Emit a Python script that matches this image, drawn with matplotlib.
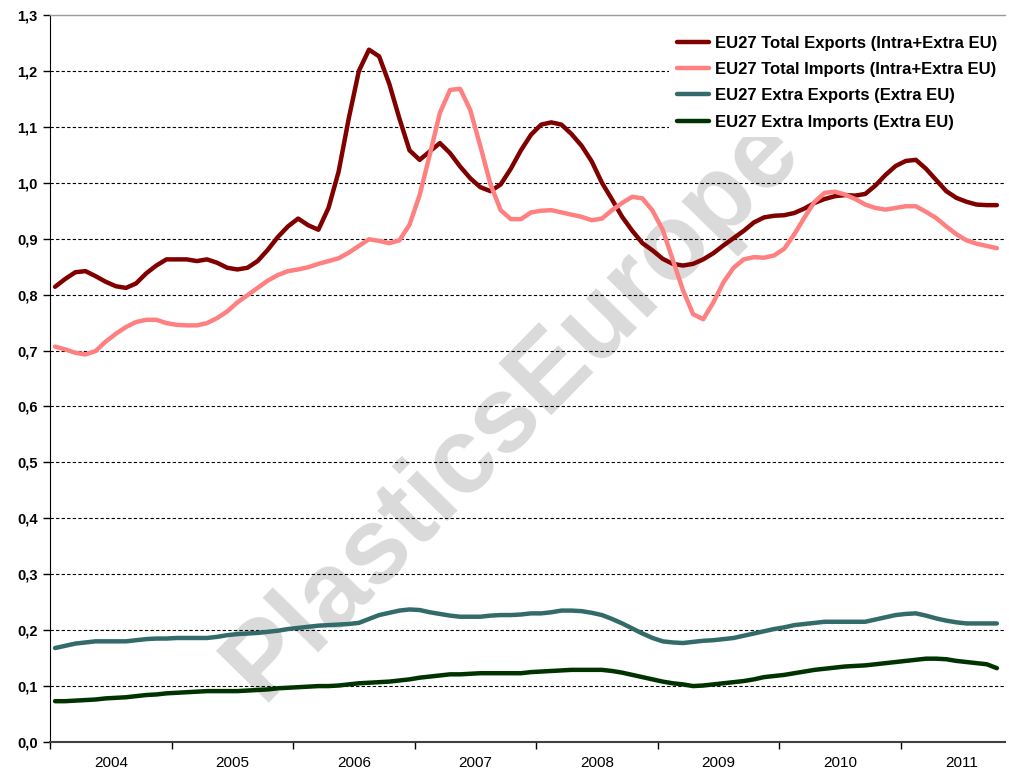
import matplotlib
matplotlib.use("Agg")
import matplotlib.pyplot as plt
import numpy as np

plt.rcParams['font.family'] = ['Liberation Sans', 'DejaVu Sans']

years = ['2004', '2005', '2006', '2007', '2008', '2009', '2010', '2011']
n_months = 94  # Jan 2004 .. Oct 2011

total_exports = [
    0.814, 0.828, 0.840, 0.842, 0.833, 0.823, 0.815, 0.812, 0.820, 0.838,
    0.852, 0.863, 0.863, 0.863, 0.860, 0.863, 0.857, 0.848, 0.845, 0.848,
    0.860, 0.880, 0.903, 0.922, 0.936, 0.924, 0.916, 0.955, 1.020, 1.115,
    1.200, 1.238, 1.226, 1.177, 1.115, 1.058, 1.041, 1.056, 1.071, 1.053,
    1.029, 1.008, 0.992, 0.985, 0.997, 1.025, 1.058, 1.086, 1.104, 1.108,
    1.104, 1.087, 1.066, 1.038, 1.000, 0.970, 0.939, 0.914, 0.892, 0.879,
    0.864, 0.855, 0.852, 0.855, 0.863, 0.874, 0.888, 0.901, 0.914, 0.929,
    0.938, 0.941, 0.942, 0.946, 0.954, 0.964, 0.971, 0.976, 0.978, 0.977,
    0.980, 0.995, 1.014, 1.030, 1.039, 1.041, 1.025, 1.005, 0.985, 0.973,
    0.966, 0.961, 0.960, 0.960]

total_imports = [
    0.707, 0.702, 0.696, 0.693, 0.699, 0.716, 0.730, 0.742, 0.751, 0.755,
    0.755, 0.749, 0.746, 0.745, 0.745, 0.749, 0.758, 0.770, 0.786, 0.799,
    0.812, 0.825, 0.835, 0.842, 0.845, 0.849, 0.855, 0.860, 0.865, 0.875,
    0.887, 0.899, 0.896, 0.892, 0.897, 0.925, 0.978, 1.050, 1.125, 1.166,
    1.168, 1.130, 1.065, 0.997, 0.951, 0.935, 0.935, 0.947, 0.950, 0.951,
    0.947, 0.943, 0.939, 0.933, 0.936, 0.951, 0.964, 0.975, 0.972, 0.950,
    0.916, 0.862, 0.808, 0.765, 0.756, 0.786, 0.822, 0.848, 0.863, 0.867,
    0.866, 0.870, 0.882, 0.908, 0.938, 0.966, 0.982, 0.984, 0.979, 0.971,
    0.961, 0.955, 0.952, 0.955, 0.958, 0.958, 0.948, 0.937, 0.922, 0.908,
    0.897, 0.891, 0.887, 0.883]

extra_exports = [
    0.168, 0.172, 0.176, 0.178, 0.180, 0.180, 0.180, 0.180, 0.182, 0.184,
    0.185, 0.185, 0.186, 0.186, 0.186, 0.186, 0.188, 0.191, 0.193, 0.194,
    0.195, 0.197, 0.199, 0.202, 0.204, 0.206, 0.208, 0.209, 0.210, 0.211,
    0.213, 0.220, 0.227, 0.231, 0.235, 0.237, 0.236, 0.232, 0.229, 0.226,
    0.224, 0.224, 0.224, 0.226, 0.227, 0.227, 0.228, 0.230, 0.230, 0.232,
    0.235, 0.235, 0.234, 0.231, 0.227, 0.220, 0.212, 0.203, 0.194, 0.186,
    0.180, 0.178, 0.177, 0.179, 0.181, 0.182, 0.184, 0.186, 0.190, 0.194,
    0.198, 0.202, 0.205, 0.209, 0.211, 0.213, 0.215, 0.215, 0.215, 0.215,
    0.215, 0.219, 0.223, 0.227, 0.229, 0.230, 0.226, 0.221, 0.217, 0.214,
    0.212, 0.212, 0.212, 0.212]

extra_imports = [
    0.073, 0.073, 0.074, 0.075, 0.076, 0.078, 0.079, 0.080, 0.082, 0.084,
    0.085, 0.087, 0.088, 0.089, 0.090, 0.091, 0.091, 0.091, 0.091, 0.092,
    0.093, 0.094, 0.096, 0.097, 0.098, 0.099, 0.100, 0.100, 0.101, 0.103,
    0.105, 0.106, 0.107, 0.108, 0.110, 0.112, 0.115, 0.117, 0.119, 0.121,
    0.121, 0.122, 0.123, 0.123, 0.123, 0.123, 0.123, 0.125, 0.126, 0.127,
    0.128, 0.129, 0.129, 0.129, 0.129, 0.127, 0.124, 0.120, 0.116, 0.112,
    0.108, 0.105, 0.103, 0.100, 0.101, 0.103, 0.105, 0.107, 0.109, 0.112,
    0.116, 0.118, 0.120, 0.123, 0.126, 0.129, 0.131, 0.133, 0.135, 0.136,
    0.137, 0.139, 0.141, 0.143, 0.145, 0.147, 0.149, 0.149, 0.148, 0.145,
    0.143, 0.141, 0.139, 0.132]

series_labels = ['EU27 Total Exports (Intra+Extra EU)',
                 'EU27 Total Imports (Intra+Extra EU)',
                 'EU27 Extra Exports (Extra EU)',
                 'EU27 Extra Imports (Extra EU)']
series_colors = ['#800000', '#FF8080', '#336B6B', '#003300']

fig = plt.figure(figsize=(10.09, 7.72), dpi=100)
ax = fig.add_axes([50 / 1009, 30 / 772, 955 / 1009, 727 / 772])

x = np.arange(n_months)
for vals, lab, col in zip([total_exports, total_imports, extra_exports, extra_imports],
                          series_labels, series_colors):
    ax.plot(x, vals, color=col, lw=3.2, label=lab, zorder=4,
            solid_capstyle='round', solid_joinstyle='round')

ax.set_xlim(-0.5, 93.8)
ax.set_ylim(0, 1.3)

yt = np.round(np.arange(0, 1.31, 0.1), 1)
ax.set_yticks(yt)
ax.set_yticklabels([f"{v:.1f}".replace('.', ',') for v in yt],
                   fontsize=10.5, fontweight='bold')
for v in yt[1:-1]:
    ax.axhline(v, color='black', lw=0.8, ls=(0, (3, 2)), zorder=2)

bounds = [-0.5 + 12 * k for k in range(len(years))]
ax.set_xticks(bounds)
ax.set_xticklabels([])
ax.set_xticks([5.5 + 12 * k for k in range(len(years))], minor=True)
ax.set_xticklabels(years, minor=True, fontsize=11)
ax.tick_params(axis='x', which='minor', length=0, pad=10)
ax.tick_params(axis='x', which='major', length=5, direction='out', width=1)
ax.tick_params(axis='y', length=5, direction='out', width=1, pad=4)

ax.spines['right'].set_visible(False)
ax.spines['top'].set_color('#999999')
ax.spines['top'].set_linewidth(1)
ax.spines['left'].set_color('black')
ax.spines['bottom'].set_color('#404040')
ax.spines['bottom'].set_linewidth(1.5)

ax.text(0.485, 0.46, 'PlasticsEurope', transform=ax.transAxes, fontsize=77,
        fontweight='bold', color='#DADADA', rotation=45.5, ha='center', va='center',
        zorder=1)

leg = ax.legend(loc='upper right', bbox_to_anchor=(1.0, 0.982), borderaxespad=0,
                frameon=True, facecolor='white', edgecolor='none', framealpha=1,
                fancybox=False, prop={'size': 12, 'weight': 'bold'},
                handlelength=1.9, handletextpad=0.4, labelspacing=0.68,
                borderpad=0.45)
leg.set_zorder(6)

fig.savefig('out.png', dpi=100)
